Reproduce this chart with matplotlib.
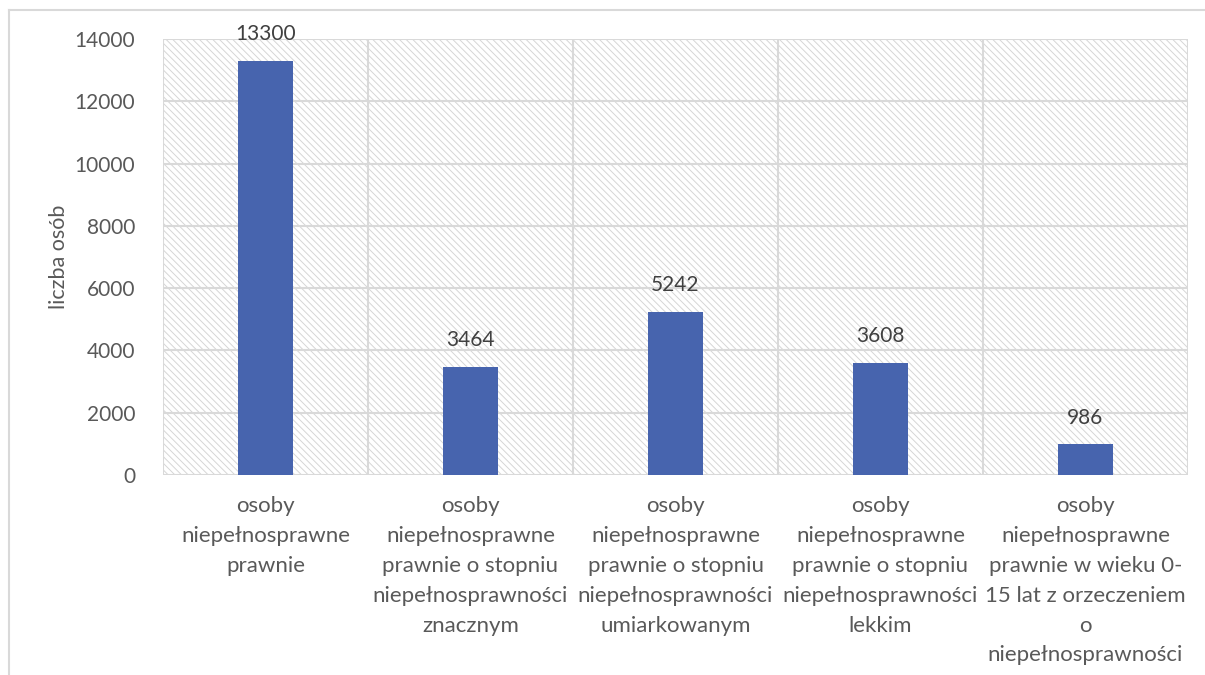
import matplotlib
matplotlib.use("Agg")
import matplotlib.pyplot as plt
from matplotlib.patches import Rectangle
from matplotlib.lines import Line2D

categories = [
    "osoby\nniepełnosprawne\nprawnie",
    "osoby\nniepełnosprawne\nprawnie o stopniu\nniepełnosprawności\nznacznym",
    "osoby\nniepełnosprawne\nprawnie o stopniu\nniepełnosprawności\numiarkowanym",
    "osoby\nniepełnosprawne\nprawnie o stopniu\nniepełnosprawności\nlekkim",
    "osoby\nniepełnosprawne\nprawnie w wieku 0-\n15 lat z orzeczeniem\no\nniepełnosprawności",
]
values = [13300, 3464, 5242, 3608, 986]
yticks = [0, 2000, 4000, 6000, 8000, 10000, 12000, 14000]

TXT = "#595959"
GRID = "#d9d9d9"
BAR = "#4764ae"

plt.rcParams['font.family'] = ['Lato', 'DejaVu Sans']
plt.rcParams['hatch.linewidth'] = 0.7

fig = plt.figure(figsize=(12.05, 6.75), dpi=100)
W, H = 1205, 675
ax = fig.add_axes([163 / W, 1 - 475 / H, (1188 - 163) / W, (475 - 39) / H])

# hatched background
bg = Rectangle((0, 0), 1, 1, transform=ax.transAxes, facecolor="white",
               edgecolor="#d6d6d6", linewidth=0, hatch="\\\\\\\\\\", zorder=0)
ax.add_patch(bg)
ax.patch.set_visible(False)

n = len(values)
x = list(range(n))
ax.bar(x, values, width=0.27, color=BAR, zorder=3)
for xi, v in zip(x, values):
    ax.annotate(str(v), (xi, v), xytext=(0, 12), textcoords="offset points",
                ha="center", va="bottom", fontsize=15, color="#404040", zorder=4)

ax.set_xlim(-0.5, n - 0.5)
ax.set_ylim(0, 14000)
ax.set_yticks(yticks)
ax.set_yticklabels([str(t) for t in yticks])
ax.set_xticks(x)
ax.set_xticklabels(categories, linespacing=1.62)
ax.tick_params(axis='y', length=0, pad=20, labelsize=15, labelcolor=TXT)
ax.tick_params(axis='x', length=0, pad=15, labelsize=16, labelcolor=TXT)

for t in yticks:
    ax.axhline(t, color=GRID, lw=1.5, zorder=1)
for b in [i - 0.5 for i in range(n + 1)]:
    ax.axvline(b, color=GRID, lw=1.5, zorder=1)
for s in ax.spines.values():
    s.set_visible(False)

ax.set_ylabel("liczba osób", fontsize=15.5, color=TXT, labelpad=4)

# outer chart border
fig.add_artist(Line2D([9 / W, 1.0], [1 - 10 / H, 1 - 10 / H], color=GRID, lw=1.5,
                      transform=fig.transFigure))
fig.add_artist(Line2D([9 / W, 9 / W], [1 - 10 / H, 0], color=GRID, lw=1.5,
                      transform=fig.transFigure))

fig.savefig("out.png", dpi=100)
